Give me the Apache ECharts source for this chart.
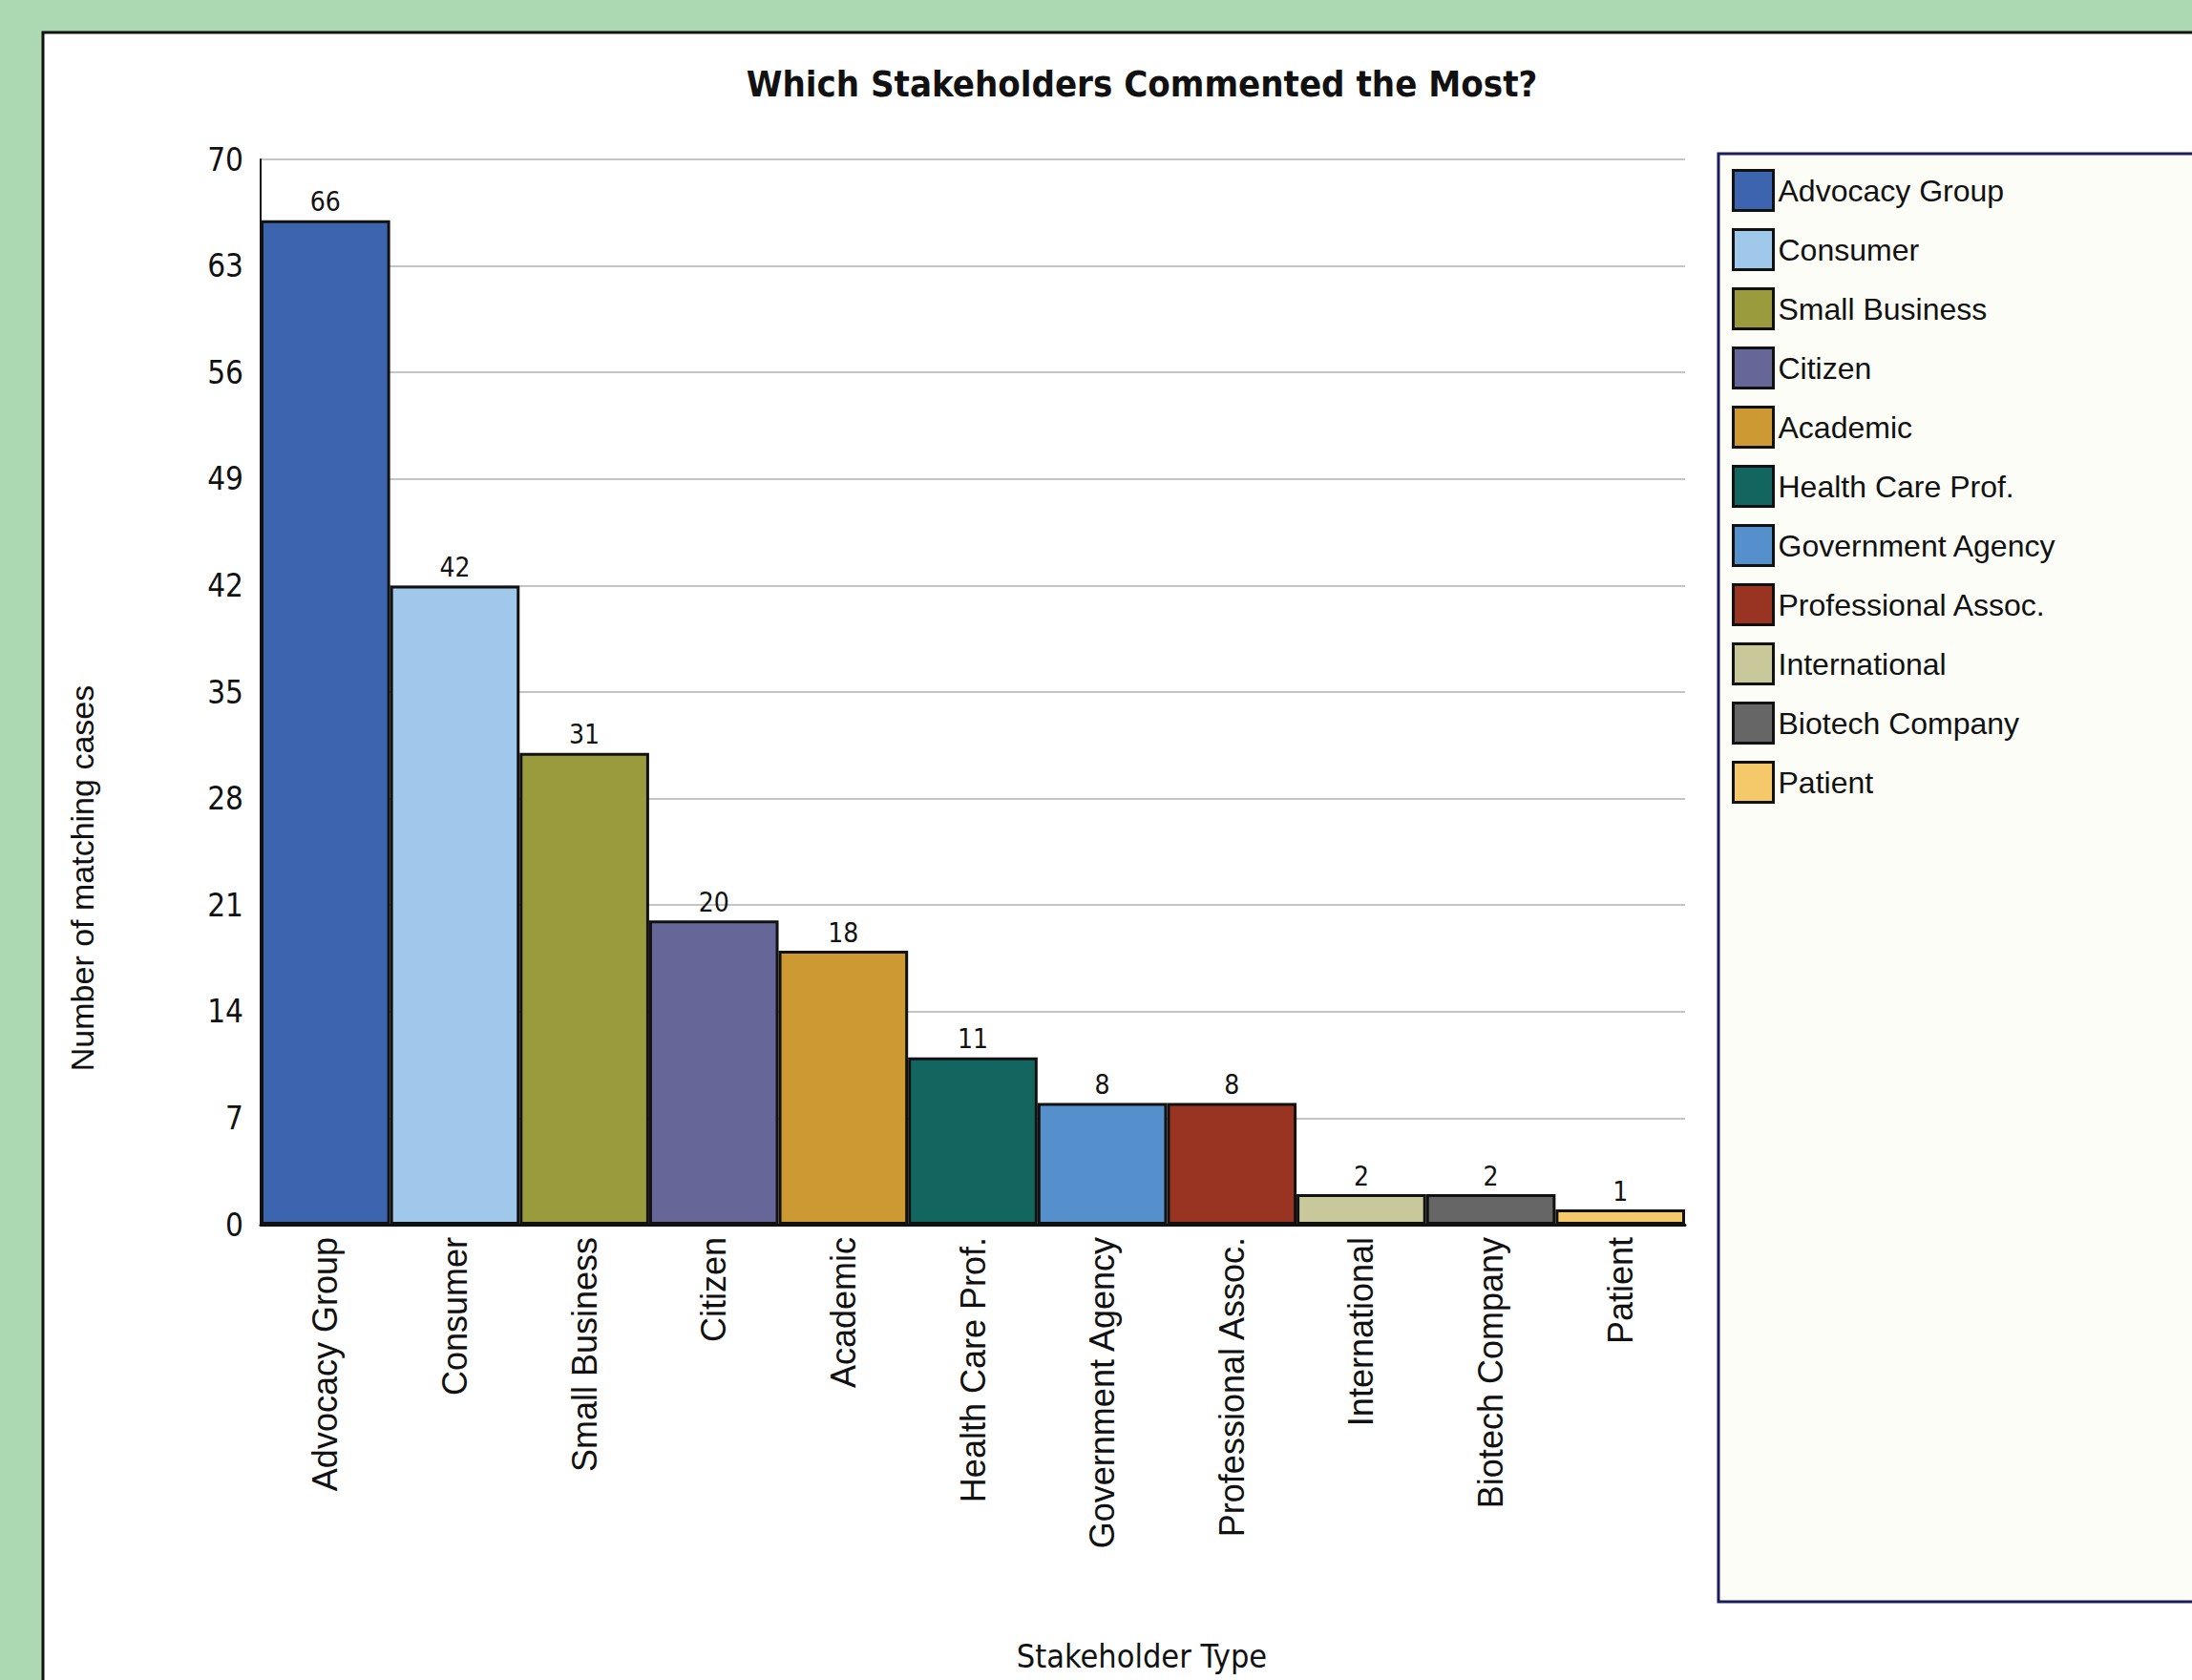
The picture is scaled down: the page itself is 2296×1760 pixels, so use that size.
<!DOCTYPE html>
<html>
<head>
<meta charset="utf-8">
<style>
  html, body { margin: 0; padding: 0; background: #acd9b1; }
  #chart { width: 2296px; height: 1760px; }
</style>
<script src="https://cdn.jsdelivr.net/npm/echarts@6/dist/echarts.min.js"></script>
</head>
<body>
<div id="chart"></div>
<script>
// 分类名称
const categories = ['Advocacy Group', 'Consumer', 'Small Business', 'Citizen', 'Academic',
  'Health Care Prof.', 'Government Agency', 'Professional Assoc.', 'International',
  'Biotech Company', 'Patient']
// 每类的评论数
const counts = [66, 42, 31, 20, 18, 11, 8, 8, 2, 2, 1]
// y轴刻度
const yTicks = [0, 7, 14, 21, 28, 35, 42, 49, 56, 63, 70]

// 每个柱子的颜色
const palette = ['#3d64ae', '#9fc8ea', '#9a9b3c', '#676698', '#cc9933', '#136660',
  '#5590cc', '#993322', '#c8c89a', '#666666', '#f5c86a']

const narrow = "'DejaVu Sans Condensed', 'Liberation Sans Narrow', 'Roboto Condensed', 'Liberation Sans', sans-serif"
const sans = "'Liberation Sans', Arial, sans-serif"

// 每类一个系列, 这样图例可以列出所有类别
const series = categories.map((name, i) => ({
  name: name,
  type: 'bar',
  stack: 'all',
  barWidth: '100%',
  data: counts.map((v, j) => (j === i ? v : '-')),
  itemStyle: {
    color: palette[i],
    borderColor: '#111',
    borderWidth: 3
  },
  label: {
    show: true,
    position: 'top',
    distance: 5,
    color: '#111',
    fontFamily: narrow,
    fontSize: 28
  }
}))

const chart = echarts.init(document.getElementById('chart'), null, { renderer: 'svg' })

const option = {
  animation: false,
  backgroundColor: '#acd9b1',
  title: {
    text: 'Which Stakeholders Commented the Most?',
    left: 1196,
    top: 69,
    textAlign: 'center',
    padding: 0,
    textStyle: {
      fontFamily: narrow,
      fontWeight: 'bold',
      fontSize: 38,
      color: '#111'
    }
  },
  grid: {
    left: 273,
    right: 531,
    top: 167,
    bottom: 477,
    containLabel: false
  },
  legend: {
    orient: 'vertical',
    left: 1814,
    top: 177,
    padding: 0,
    itemWidth: 42,
    itemHeight: 42,
    itemGap: 17,
    icon: 'rect',
    itemStyle: {
      borderColor: '#111',
      borderWidth: 3
    },
    textStyle: {
      fontFamily: sans,
      fontSize: 32,
      color: '#111'
    },
    data: categories
  },
  xAxis: {
    type: 'category',
    data: categories,
    axisLine: { show: true, lineStyle: { color: '#111', width: 3 } },
    axisTick: { show: false },
    axisLabel: {
      interval: 0,
      rotate: 90,
      margin: 13,
      fontFamily: sans,
      fontSize: 36,
      color: '#111'
    }
  },
  yAxis: {
    type: 'value',
    min: yTicks[0],
    max: yTicks[yTicks.length - 1],
    interval: yTicks[1] - yTicks[0],
    axisLine: { show: true, lineStyle: { color: '#111', width: 2 } },
    axisTick: { show: false },
    splitLine: { show: true, lineStyle: { color: '#c4c4c4', width: 2 } },
    axisLabel: {
      margin: 18,
      fontFamily: narrow,
      fontSize: 33,
      color: '#111'
    }
  },
  graphic: [
    {
      // 白色面板
      type: 'rect',
      z: -10,
      silent: true,
      shape: { x: 45, y: 34, width: 2300, height: 1800 },
      style: { fill: '#ffffff', stroke: '#111', lineWidth: 3 }
    },
    {
      // 图例框
      type: 'rect',
      z: -9,
      silent: true,
      shape: { x: 1800, y: 161, width: 600, height: 1517 },
      style: { fill: '#fdfdf8', stroke: '#1c1c5c', lineWidth: 3 }
    },
    {
      type: 'text',
      x: 86,
      y: 920,
      rotation: Math.PI / 2,
      style: {
        text: 'Number of matching cases',
        fontFamily: sans,
        fontSize: 34,
        fill: '#111',
        textAlign: 'center',
        textVerticalAlign: 'middle'
      }
    },
    {
      type: 'text',
      x: 1196,
      y: 1735,
      style: {
        text: 'Stakeholder Type',
        fontFamily: narrow,
        fontSize: 34,
        fill: '#111',
        textAlign: 'center',
        textVerticalAlign: 'middle'
      }
    }
  ],
  series: series
}

chart.setOption(option)
</script>
</body>
</html>
